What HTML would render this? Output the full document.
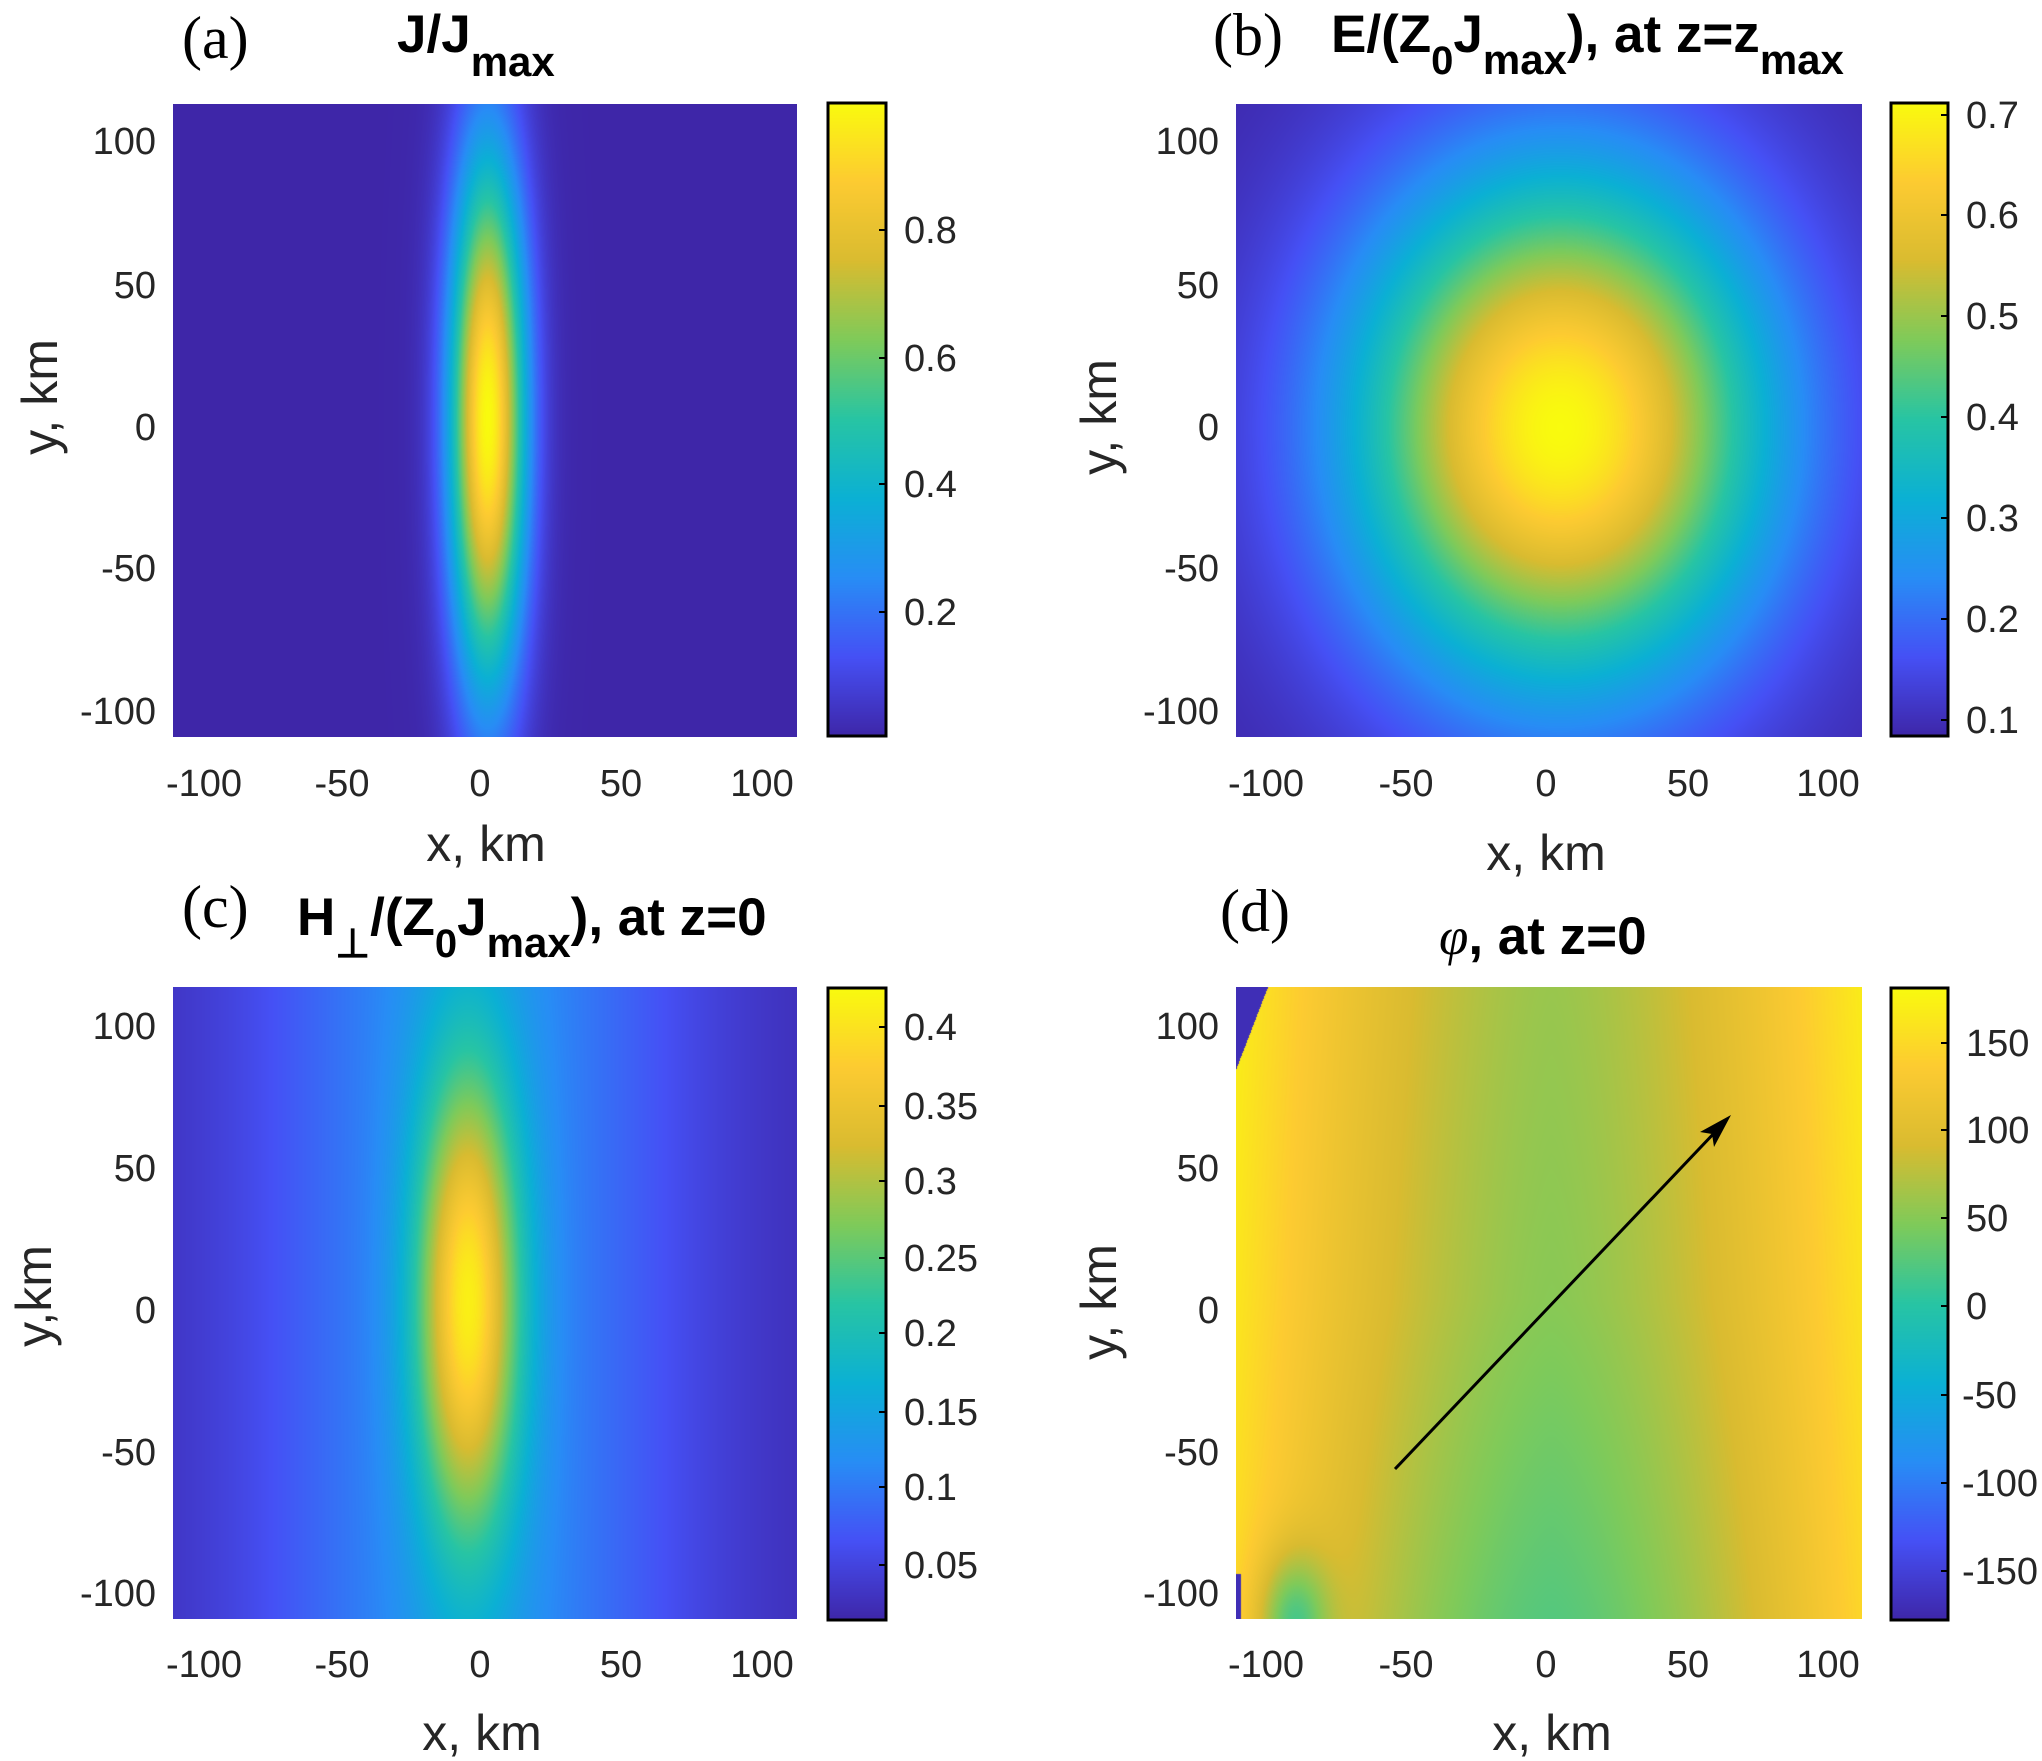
<!DOCTYPE html>
<html><head><meta charset="utf-8"><style>
html,body{margin:0;padding:0;background:#fff;}
#w{position:relative;width:2042px;height:1761px;overflow:hidden;}
canvas{position:absolute;}
svg{position:absolute;left:0;top:0;}
text{font-family:"Liberation Sans",sans-serif;fill:#262626;}
.t{font-size:38px;}
.ax{font-size:50px;}
.ti{font-size:53px;font-weight:bold;fill:#000;}
.lb{font-family:"Liberation Serif",serif;font-size:60px;fill:#000;}
</style></head><body><div id="w">
<canvas id="pa" style="left:173px;top:104px" width="624" height="633"></canvas>
<canvas id="pb" style="left:1236px;top:104px" width="626" height="633"></canvas>
<canvas id="pc" style="left:173px;top:987px" width="624" height="632"></canvas>
<canvas id="pd" style="left:1236px;top:987px" width="626" height="632"></canvas>
<canvas id="ca" style="left:827px;top:102px" width="60" height="635"></canvas>
<canvas id="cb" style="left:1890px;top:102px" width="59" height="635"></canvas>
<canvas id="cc" style="left:827px;top:987px" width="60" height="634"></canvas>
<canvas id="cd" style="left:1890px;top:987px" width="59" height="634"></canvas>
<svg width="2042" height="1761" viewBox="0 0 2042 1761">
<g fill="none" stroke="#000" stroke-width="3">
<rect x="828" y="103" width="58" height="633"/>
<rect x="1891" y="103" width="57" height="633"/>
<rect x="828" y="988" width="58" height="632"/>
<rect x="1891" y="988" width="57" height="632"/>
</g>
<g stroke="#000" stroke-width="2">
<path d="M886 230h-7M886 358h-7M886 484h-7M886 612h-7"/>
<path d="M1948 115h-7M1948 215h-7M1948 316h-7M1948 417h-7M1948 518h-7M1948 619h-7M1948 720h-7"/>
<path d="M886 1027h-7M886 1106h-7M886 1181h-7M886 1258h-7M886 1333h-7M886 1412h-7M886 1487h-7M886 1565h-7"/>
<path d="M1948 1043h-7M1948 1130h-7M1948 1218h-7M1948 1306h-7M1948 1395h-7M1948 1483h-7M1948 1571h-7"/>
</g>
<g class="t" text-anchor="end">
<text x="156" y="154">100</text><text x="156" y="298">50</text><text x="156" y="440">0</text><text x="156" y="581">-50</text><text x="156" y="724">-100</text>
<text x="156" y="1039">100</text><text x="156" y="1181">50</text><text x="156" y="1323">0</text><text x="156" y="1465">-50</text><text x="156" y="1606">-100</text>
<text x="1219" y="154">100</text><text x="1219" y="298">50</text><text x="1219" y="440">0</text><text x="1219" y="581">-50</text><text x="1219" y="724">-100</text>
<text x="1219" y="1039">100</text><text x="1219" y="1181">50</text><text x="1219" y="1323">0</text><text x="1219" y="1465">-50</text><text x="1219" y="1606">-100</text>
</g>
<g class="t" text-anchor="middle">
<text x="204" y="796">-100</text><text x="342" y="796">-50</text><text x="480" y="796">0</text><text x="621" y="796">50</text><text x="762" y="796">100</text>
<text x="1266" y="796">-100</text><text x="1406" y="796">-50</text><text x="1546" y="796">0</text><text x="1688" y="796">50</text><text x="1828" y="796">100</text>
<text x="204" y="1677">-100</text><text x="342" y="1677">-50</text><text x="480" y="1677">0</text><text x="621" y="1677">50</text><text x="762" y="1677">100</text>
<text x="1266" y="1677">-100</text><text x="1406" y="1677">-50</text><text x="1546" y="1677">0</text><text x="1688" y="1677">50</text><text x="1828" y="1677">100</text>
</g>
<g class="t">
<text x="904" y="243">0.8</text><text x="904" y="371">0.6</text><text x="904" y="497">0.4</text><text x="904" y="625">0.2</text>
<text x="1966" y="128">0.7</text><text x="1966" y="228">0.6</text><text x="1966" y="329">0.5</text><text x="1966" y="430">0.4</text><text x="1966" y="531">0.3</text><text x="1966" y="632">0.2</text><text x="1966" y="733">0.1</text>
<text x="904" y="1040">0.4</text><text x="904" y="1119">0.35</text><text x="904" y="1194">0.3</text><text x="904" y="1271">0.25</text><text x="904" y="1346">0.2</text><text x="904" y="1425">0.15</text><text x="904" y="1500">0.1</text><text x="904" y="1578">0.05</text>
<text x="1966" y="1056">150</text><text x="1966" y="1143">100</text><text x="1966" y="1231">50</text><text x="1966" y="1319">0</text><text x="1962" y="1408">-50</text><text x="1962" y="1496">-100</text><text x="1962" y="1584">-150</text>
</g>
<g class="ax" text-anchor="middle">
<text x="486" y="861">x, km</text><text x="1546" y="870">x, km</text>
<text x="482" y="1750">x, km</text><text x="1552" y="1750">x, km</text>
<text transform="translate(57,397) rotate(-90)">y, km</text>
<text transform="translate(1116,417) rotate(-90)">y, km</text>
<text transform="translate(51,1296) rotate(-90)">y,km</text>
<text transform="translate(1116,1302) rotate(-90)">y, km</text>
</g>
<text class="lb" x="182" y="58">(a)</text>
<text class="lb" x="1213" y="55">(b)</text>
<text class="lb" x="182" y="927">(c)</text>
<text class="lb" x="1220" y="931">(d)</text>
<text class="ti" x="397" y="52">J/J<tspan font-size="42" dy="24">max</tspan></text>
<text class="ti" x="1331" y="52">E/(Z<tspan font-size="40" dy="22">0</tspan><tspan dy="-22">J</tspan><tspan font-size="42" dy="22">max</tspan><tspan dy="-22">), at z=z</tspan><tspan font-size="42" dy="22">max</tspan></text>
<text class="ti" x="297" y="935">H<tspan font-size="40" dy="22">⊥</tspan><tspan dy="-22">/(Z</tspan><tspan font-size="40" dy="22">0</tspan><tspan dy="-22">J</tspan><tspan font-size="42" dy="22">max</tspan><tspan dy="-22">), at z=0</tspan></text>
<text class="ti" x="1439" y="954"><tspan font-family="Liberation Serif" font-style="italic" font-weight="normal">φ</tspan>, at z=0</text>
<line x1="1395" y1="1469" x2="1718" y2="1129" stroke="#000" stroke-width="3"/>
<polygon points="1731,1115 1700,1132 1712,1134 1714,1147" fill="#000"/>
</svg>
</div>
<script>
var P=[[0.2422,0.1504,0.6603],[0.2717,0.3145,0.9607],[0.1546,0.5523,0.9619],[0.0428,0.6916,0.8318],[0.1540,0.7702,0.6426],[0.4970,0.7935,0.3519],[0.8525,0.7342,0.1863],[0.9922,0.7958,0.1920],[0.9763,0.9831,0.0538]];
function cm(t){if(t<0)t=0;if(t>1)t=1;var f=t*8,i=Math.min(7,Math.floor(f)),r=f-i,a=P[i],b=P[i+1];
return [255*(a[0]+(b[0]-a[0])*r),255*(a[1]+(b[1]-a[1])*r),255*(a[2]+(b[2]-a[2])*r)];}
function draw(id,fn,x0,x1,y0,y1,vmin,vmax){var c=document.getElementById(id),g=c.getContext('2d'),W=c.width,H=c.height,im=g.createImageData(W,H);
for(var j=0;j<H;j++){var y=y1-(y1-y0)*j/(H-1);for(var i=0;i<W;i++){var x=x0+(x1-x0)*i/(W-1);var v=fn(x,y);var col=cm((v-vmin)/(vmax-vmin));var k=4*(j*W+i);im.data[k]=col[0];im.data[k+1]=col[1];im.data[k+2]=col[2];im.data[k+3]=255;}}
g.putImageData(im,0,0);}
function bar(id){var c=document.getElementById(id),g=c.getContext('2d'),W=c.width,H=c.height;for(var j=0;j<H;j++){var col=cm(1-j/(H-1));g.fillStyle='rgb('+col.map(Math.round).join(',')+')';g.fillRect(0,j,W,1);}}
draw('pa',function(x,y){return Math.exp(-((x-2)*(x-2))/(2*9.5*9.5)-y*y/(2*66*66));},-110,112,-113,112,0,1);
draw('pb',function(x,y){return 0.08+0.64*Math.exp(-((x-5)*(x-5))/(2*52*52)-(y+3)*(y+3)/(2*64*64));},-110,112,-113,112,0.08,0.72);
draw('pc',function(x,y){var d=x+5;return 0.018+0.29*Math.exp(-d*d/(2*13*13)-y*y/(2*60*60))+0.11*Math.exp(-d*d/(2*55*55));},-110,112,-113,112,0.015,0.43);
draw('pd',function(x,y){var p=50+110*Math.pow(Math.abs((x-2)/112),1.5);p+=8*(y/110);p-=18*Math.max(0,-y/110)*Math.exp(-x*x/(2*60*60));
p-=100*Math.exp(-((x+90)*(x+90))/(2*9*9)-((y+115)*(y+115))/(2*18*18));
if(y>83+(x+110)*2.6)p=-172;if(x<-108.5&&y<-97)p=-172;return p;},-110,112,-113,112,-180,180);
bar('ca');bar('cb');bar('cc');bar('cd');
</script>
</body></html>
